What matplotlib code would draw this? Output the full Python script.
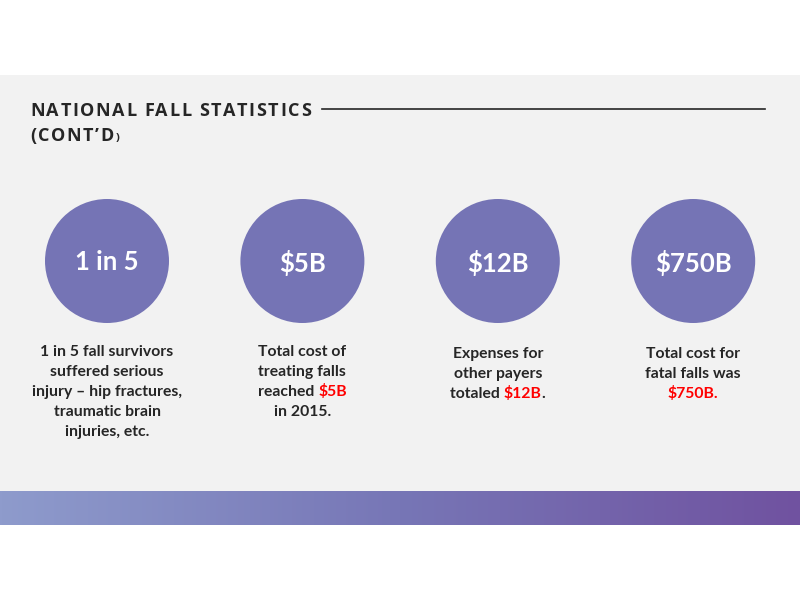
import re
import numpy as np
import matplotlib
matplotlib.use("Agg")
import matplotlib.pyplot as plt
from matplotlib.patches import Circle, Rectangle
from matplotlib.font_manager import FontProperties

W, H = 800, 599

title_lines = ["NATIONAL FALL STATISTICS", "(CONT\u2019D"]
stat_labels = ["1 in 5", "$5B", "$12B", "$750B"]
# [..] marks the part drawn in red
descriptions = [
    ["1 in 5 fall survivors", "suffered serious", "injury \u2013 hip fractures,",
     "traumatic brain", "injuries, etc."],
    ["Total cost of", "treating falls", "reached [$5B]", "in 2015."],
    ["Expenses for", "other payers", "totaled [$12B]."],
    ["Total cost for", "fatal falls was", "[$750B.]"],
]
desc_top = [352, 352, 354, 354]

DARK = "#262626"
RED = "#FF0000"
PANEL = "#F2F2F2"
CIRCLE = "#7574B5"
band_colors = [(142, 155, 204), (119, 118, 182), (112, 82, 160)]

fig = plt.figure(figsize=(8, 5.99), dpi=100)
ax = fig.add_axes([0, 0, 1, 1])
ax.set_xlim(0, W)
ax.set_ylim(H, 0)
ax.axis("off")
renderer = fig.canvas.get_renderer()


def text_w(s, fp):
    return renderer.get_text_width_height_descent(s, fp, ismath=False)[0]


def advance(s, fp):
    # width of s including trailing spaces
    return text_w(s + "l", fp) - text_w("l", fp)


# background panel and gradient band
ax.add_patch(Rectangle((0, 75), W, 416, color=PANEL, lw=0, zorder=0))
t = np.linspace(0, 1, 400)
stops = np.array(band_colors) / 255.0
grad = np.stack([np.interp(t, [0, 0.5, 1], stops[:, k]) for k in range(3)], axis=-1)
ax.imshow(grad[None, :, :], extent=(0, W, 525, 491), aspect="auto", zorder=1)
ax.set_xlim(0, W)
ax.set_ylim(H, 0)

# title with letter spacing
title_fp = FontProperties(family="Open Sans", weight="bold", size=13)
small_fp = FontProperties(family="Open Sans", weight="bold", size=8)
track = 1.6
sp = advance(" ", title_fp)
for row, line in enumerate(title_lines):
    x = 30
    y = 111 + row * 25
    for ch in line:
        if ch == " ":
            x += sp + track
            continue
        ax.text(x, y, ch, fontproperties=title_fp, color=DARK, va="center", ha="left")
        x += text_w(ch, title_fp) + track
    if row == 1:
        ax.text(x, y + 2, ")", fontproperties=small_fp, color=DARK, va="center", ha="left")
ax.plot([322, 765], [109, 109], color=DARK, lw=1.2)

# circles with stats
circ_fp = FontProperties(family="Lato", weight="bold", size=18.5)
body_fp = FontProperties(family="Lato", weight="bold", size=11.3)
x0, step = 107, 195.4
for i, label in enumerate(stat_labels):
    cx = x0 + i * step
    ax.add_patch(Circle((cx, 261), 62, color=CIRCLE, lw=0, zorder=2))
    ax.text(cx, 262.5, label, fontproperties=circ_fp, color="white",
            ha="center", va="center", zorder=3)

    for j, line in enumerate(descriptions[i]):
        y = desc_top[i] + j * 20
        parts = [p for p in re.split(r"(\[[^\]]*\])", line) if p]
        segs = []
        for p in parts:
            if p.startswith("["):
                segs.append((p[1:-1], RED))
            else:
                segs.append((p, DARK))
        full = "".join(s for s, _ in segs)
        left = cx - text_w(full, body_fp) / 2
        prefix = ""
        for s, col in segs:
            xs = left + (advance(prefix, body_fp) if prefix else 0)
            ax.text(xs, y, s, fontproperties=body_fp, color=col,
                    ha="left", va="center", zorder=3)
            prefix += s

fig.savefig("out.png", dpi=100, facecolor="white")
